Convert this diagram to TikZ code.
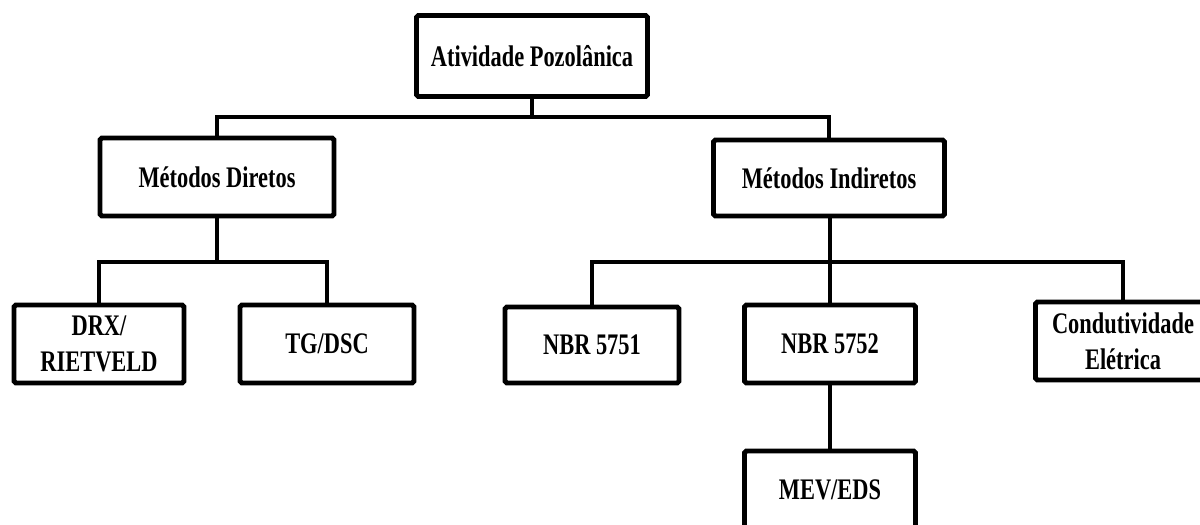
\documentclass[tikz,border=0pt]{standalone}
\usepackage{fontspec}
\setmainfont[FakeStretch=0.75]{Liberation Serif}
\tikzset{caixa/.style={draw, line width=2.8pt, fill=white, rounded corners=1pt,
    align=center, inner sep=0pt, minimum height=1.56cm,
    font=\bfseries\fontsize{17}{20.5}\selectfont},
  liga/.style={line width=2.8pt}}
\begin{document}
\begin{tikzpicture}[x=0.02cm,y=-0.02cm]
\clip (0,0) rectangle (1200,524);
\node[caixa, minimum width=4.62cm, minimum height=1.62cm] (ativ) at (532,56) {Atividade Pozolânica};
\node[caixa, minimum width=4.68cm] (dir) at (217,177) {Métodos Diretos};
\node[caixa, minimum width=4.62cm, minimum height=1.52cm] (ind) at (829,178) {Métodos Indiretos};
\node[caixa, minimum width=3.4cm] (drx) at (99,344) {DRX/\\RIETVELD};
\node[caixa, minimum width=3.48cm] (tg) at (327,344) {TG/DSC};
\node[caixa, minimum width=3.48cm, minimum height=1.52cm] (n51) at (592,345) {NBR 5751};
\node[caixa, minimum width=3.42cm] (n52) at (830,344) {NBR 5752};
\node[caixa, minimum width=3.5cm] (cond) at (1123,341) {Condutividade\\Elétrica};
\node[caixa, minimum width=3.42cm] (mev) at (830,490) {MEV/EDS};
% ligacoes
\coordinate (j1) at (532,117);
\coordinate (j2) at (217,262);
\coordinate (j3) at (830,262);
\draw[liga] (ativ) -- (j1);
\draw[liga] (dir.north) |- (j1) -| (ind.north);
\draw[liga] (dir) -- (j2);
\draw[liga] (drx.north) |- (j2) -| (tg.north);
\draw[liga] (ind.south -| j3) -- (j3);
\draw[liga] (n51.north) |- (j3) -| (cond.north);
\draw[liga] (j3) -- (n52);
\draw[liga] (n52) -- (mev);
\end{tikzpicture}
\end{document}
